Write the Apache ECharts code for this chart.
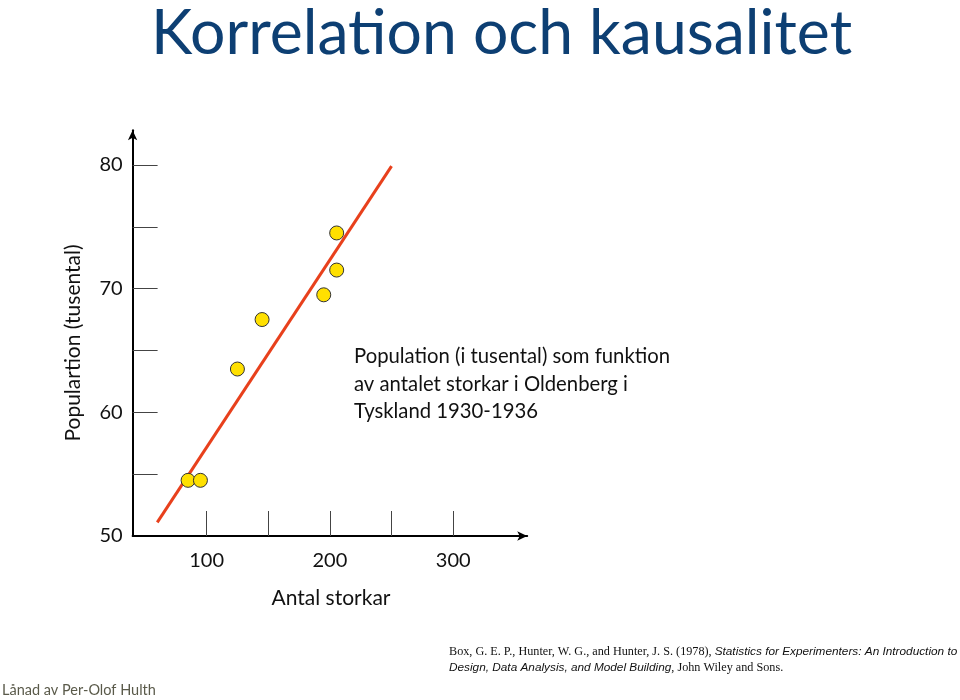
<!DOCTYPE html>
<html>
<head>
<meta charset="utf-8">
<script src="https://cdn.jsdelivr.net/npm/echarts@6/dist/echarts.min.js"></script>
<style>html,body{margin:0;padding:0;background:#fff}#c{width:960px;height:700px}</style>
</head>
<body>
<div id="c"></div>
<script>
// Data
var storkar = [85, 95, 125, 145, 195, 205.5, 205.5];
var population = [54.5, 54.5, 63.5, 67.5, 69.5, 71.5, 74.5];
var lineX = [60, 250];
var lineY = [51.1, 79.9];
var xTicks = [100, 150, 200, 250, 300];
var xLabels = [100, 200, 300];
var yTicks = [55, 60, 65, 70, 75, 80];
var yLabels = [50, 60, 70, 80];

var FONT = 'Lato, "Open Sans", sans-serif';
var chart = echarts.init(document.getElementById('c'));
var pts = storkar.map(function (x, i) { return [x, population[i]]; });
var linePts = lineX.map(function (x, i) { return [x, lineY[i]]; });

chart.setOption({
  backgroundColor: '#fff',
  animation: false,
  title: {
    text: 'Korrelation och kausalitet',
    left: 146, top: -3,
    textStyle: { color: '#0D3F73', fontSize: 62.5, fontWeight: 'normal', fontFamily: FONT }
  },
  grid: { left: 132.6, right: 432.8, top: 130.3, bottom: 164 },
  xAxis: {
    type: 'value', min: 40, max: 360,
    splitLine: { show: false },
    axisLine: { lineStyle: { color: '#000', width: 2 }, symbol: ['none', 'arrow'], symbolSize: [7, 10] },
    axisTick: { inside: true, length: 25, lineStyle: { color: '#444', width: 1 }, customValues: xTicks },
    axisLabel: { customValues: xLabels, margin: 15, fontSize: 20, color: '#111', fontFamily: FONT }
  },
  yAxis: {
    type: 'value', min: 50, max: 82.8,
    splitLine: { show: false },
    axisLine: { show: true, lineStyle: { color: '#000', width: 2 }, symbol: ['none', 'arrow'], symbolSize: [7, 10] },
    axisTick: { show: true, inside: true, length: 25, lineStyle: { color: '#444', width: 1 }, customValues: yTicks },
    axisLabel: { customValues: yLabels, margin: 10, fontSize: 20, color: '#111', fontFamily: FONT }
  },
  series: [
    {
      type: 'line', data: linePts, symbol: 'none',
      lineStyle: { color: '#E8401C', width: 3 }, z: 2
    },
    {
      type: 'scatter', data: pts, symbol: 'circle', symbolSize: 14,
      itemStyle: { color: '#FFE000', borderColor: '#333', borderWidth: 1, opacity: 1 }, z: 3
    }
  ],
  graphic: [
    { type: 'text', x: 73, y: 343, rotation: Math.PI / 2,
      style: { text: 'Populartion (tusental)', fontSize: 21, fill: '#111', fontFamily: FONT, align: 'center', verticalAlign: 'middle' } },
    { type: 'text', x: 331, y: 598,
      style: { text: 'Antal storkar', fontSize: 21, fill: '#111', fontFamily: FONT, align: 'center', verticalAlign: 'middle' } },
    { type: 'text', x: 354, y: 343,
      style: { text: 'Population (i tusental) som funktion\nav antalet storkar i Oldenberg i\nTyskland 1930-1936', fontSize: 20.3, lineHeight: 27.5, fill: '#111', fontFamily: FONT } },
    { type: 'text', x: 449, y: 644,
      style: {
        text: '{a|Box, G. E. P., Hunter, W. G., and Hunter, J. S. (1978), }{b|Statistics for Experimenters: An Introduction to}\n{b|Design, Data Analysis, and Model Building}{a|, John Wiley and Sons.}',
        rich: {
          a: { fontFamily: '"Liberation Serif", serif', fontSize: 12.2, fill: '#111', lineHeight: 16 },
          b: { fontFamily: '"Liberation Sans", sans-serif', fontStyle: 'italic', fontSize: 11.8, fill: '#111', lineHeight: 16 }
        }
      } },
    { type: 'text', x: 2, y: 683,
      style: { text: 'Lånad av Per-Olof Hulth', fontSize: 14.5, fill: '#5a5a4a', fontFamily: FONT } }
  ]
});
</script>
</body>
</html>
